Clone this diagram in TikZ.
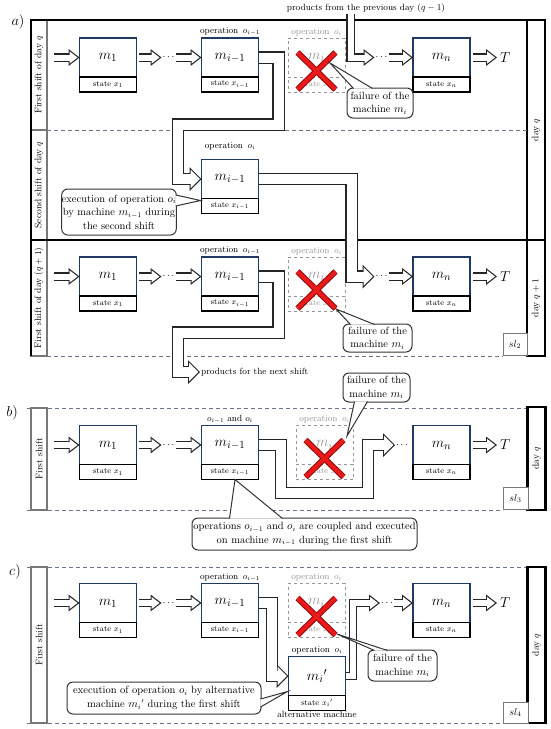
\documentclass[tikz,border=0pt]{standalone}
\usepackage{tikz}
\usetikzlibrary{arrows.meta, positioning, calc}

\definecolor{navy}{RGB}{31,56,100}
\definecolor{framegray}{RGB}{105,115,135}
\definecolor{bargray}{RGB}{120,120,120}
\definecolor{failgray}{RGB}{150,150,150}
\definecolor{crossred}{RGB}{235,25,25}
\definecolor{crossdark}{RGB}{140,10,10}

\tikzset{
  thinout/.style={line width=8.4pt, draw=black!85, -{Triangle[length=11pt, width=17pt, line width=0pt]}},
  thinin/.style={line width=6pt, white, shorten >=1.96pt, -{Triangle[length=7.84pt, width=12.1pt, line width=0pt]}},
  wideout/.style={line width=12.4pt, draw=black!85, -{Triangle[length=12pt, width=24pt, line width=0pt]}},
  widein/.style={line width=10pt, white, shorten >=1.7pt, -{Triangle[length=9.1pt, width=18.2pt, line width=0pt]}},
}
\newcommand{\thinflow}[2][]{\draw[thinout,#1] #2; \draw[thinin,#1] #2;}
\newcommand{\wideflow}[2][]{\draw[wideout,#1] #2; \draw[widein,#1] #2;}
\newcommand{\failx}[1]{%
  \draw[crossedge] ($(#1)+(-19,-5)$) -- ($(#1)+(19,32)$) ($(#1)+(19,-5)$) -- ($(#1)+(-19,32)$);
  \draw[crossfill] ($(#1)+(-19,-5)$) -- ($(#1)+(19,32)$) ($(#1)+(19,-5)$) -- ($(#1)+(-19,32)$);}

\begin{document}
\begin{tikzpicture}[x=1pt, y=-1pt,
    machine/.style={rectangle, draw=navy, line width=1.1pt, fill=white, minimum width=57pt, minimum height=39pt, inner sep=0pt, outer sep=0pt, font=\fontsize{15}{18}\selectfont},
    statebox/.style={rectangle, draw=black, line width=1.1pt, fill=white, minimum width=57pt, minimum height=15pt, inner sep=0pt, outer sep=0pt, font=\fontsize{8}{9}\selectfont},
    failbox/.style={rectangle, draw=failgray, dashed, line width=0.9pt, minimum width=57pt, minimum height=39pt, inner sep=0pt, outer sep=0pt, text=failgray, font=\fontsize{15}{18}\selectfont},
    failstate/.style={failbox, minimum height=15pt, font=\fontsize{8}{9}\selectfont},
    oplabel/.style={inner sep=1pt, font=\fontsize{9}{10}\selectfont},
    dots/.style={minimum width=12pt, inner sep=0pt, outer sep=1pt, font=\fontsize{10}{10}\selectfont},
    endlabel/.style={anchor=west, inner sep=0pt, outer sep=3pt, font=\fontsize{15}{18}\selectfont},
    callout/.style={draw=black!80, line width=1pt, fill=white, rounded corners=6pt, align=center, inner sep=0pt, font=\fontsize{10.5}{13.5}\selectfont},
    pointer/.style={draw=black!80, line width=1pt, fill=white},
    shiftbar/.style={draw=bargray, line width=1.3pt, fill=white, rotate=90, minimum height=16pt, inner sep=0pt, font=\fontsize{9.5}{11}\selectfont},
    daybar/.style={draw=black, line width=2.4pt, fill=white, rotate=90, minimum height=18pt, inner sep=0pt, font=\fontsize{9.5}{11}\selectfont},
    slbox/.style={draw=bargray, line width=0.9pt, fill=white, minimum width=24pt, minimum height=22pt, inner sep=0pt, font=\fontsize{10}{12}\selectfont},
    frame/.style={line width=2.4pt},
    framedash/.style={draw=framegray, line width=1pt, dash pattern=on 4pt off 3pt},
    crossedge/.style={draw=crossdark, line width=6pt},
    crossfill/.style={draw=crossred, line width=4pt},
    panel/.style={font=\fontsize{14}{16}\selectfont}
  ]
  \useasboundingbox (0,0) rectangle (550,729);

  % ---------- a) ----------
  \node[panel] (alabel) at (18,22) {$a)$};
  \node[shiftbar, minimum width=110pt] (a1shift) at (39,75) {First shift of day $q$};
  \node[shiftbar, minimum width=110pt] (a2shift) at (39,185) {Second shift of day $q$};
  \node[shiftbar, minimum width=116pt] (a3shift) at (39,298) {First shift of day $(q+1)$};
  \node[daybar, minimum width=220pt] (aday) at (536,130) {day $q$};
  \node[daybar, minimum width=116pt] (aday1) at (536,298) {day $q+1$};
  \draw[frame] (31,356) -- (31,20) -- (527,20);
  \draw[frame] (31,240) -- (527,240);
  \draw[framedash] (47,130) -- (527,130);
  \draw[framedash] (47,356) -- (503,356);
  \node[slbox] (asl) at (515,344.5) {$sl_2$};
  \node[oplabel] (prevday) at (366,8) {products from the previous day $(q-1)$};

  % first shift of day q
  \coordinate (a1in) at (54,57.5);
  \node[machine] (a1m1) at (108,57.5) {$m_1$};
  \node[statebox, below=0pt of a1m1] (a1m1s) {state $x_1$};
  \node[dots] (a1d1) at (168.5,57.5) {$\cdots$};
  \node[machine] (a1mi1) at (230,57.5) {$m_{i-1}$};
  \node[statebox, below=0pt of a1mi1] (a1mi1s) {state $x_{i-1}$};
  \node[oplabel, above=1pt of a1mi1] (a1op) {operation\enspace$o_{i-1}$};
  \node[failbox] (a1mi) at (316.5,57.5) {$m_i$};
  \node[failstate, below=0pt of a1mi] (a1mis) {state $x_i$};
  \node[oplabel, text=failgray, above=1pt of a1mi] (a1opf) {operation\enspace$o_i$};
  \node[dots] (a1d2) at (381.5,57.5) {$\cdots$};
  \node[machine] (a1mn) at (441.5,57.5) {$m_n$};
  \node[statebox, below=0pt of a1mn] (a1mns) {state $x_n$};
  \node[endlabel] (a1T) at (497,57.5) {$T$};

  % second shift of day q
  \node[machine] (a2mi1) at (230,179) {$m_{i-1}$};
  \node[statebox, below=0pt of a2mi1] (a2mi1s) {state $x_{i-1}$};
  \node[oplabel, above=8pt of a2mi1] (a2op) {operation\enspace$o_i$};

  % first shift of day q+1
  \coordinate (a3in) at (54,276.5);
  \node[machine] (a3m1) at (108,276.5) {$m_1$};
  \node[statebox, below=0pt of a3m1] (a3m1s) {state $x_1$};
  \node[dots] (a3d1) at (168.5,276.5) {$\cdots$};
  \node[machine] (a3mi1) at (230,276.5) {$m_{i-1}$};
  \node[statebox, below=0pt of a3mi1] (a3mi1s) {state $x_{i-1}$};
  \node[oplabel, above=1pt of a3mi1] (a3op) {operation\enspace$o_{i-1}$};
  \node[failbox] (a3mi) at (316.5,276.5) {$m_i$};
  \node[failstate, below=0pt of a3mi] (a3mis) {state $x_i$};
  \node[oplabel, text=failgray, above=1pt of a3mi] (a3opf) {operation\enspace$o_i$};
  \node[dots] (a3d2) at (381.5,276.5) {$\cdots$};
  \node[machine] (a3mn) at (441.5,276.5) {$m_n$};
  \node[statebox, below=0pt of a3mn] (a3mns) {state $x_n$};
  \node[endlabel] (a3T) at (497,276.5) {$T$};
  \node[oplabel, anchor=west] (nextshift) at (200,372) {products for the next shift};

  \thinflow{(a1in) -- (a1m1.west)}
  \thinflow[shorten <=2pt]{(a1m1.east) -- (a1d1.west)}
  \thinflow{(a1d1.east) -- (a1mi1.west)}
  \coordinate (a0top) at (350.5,14);
  \thinflow{(a0top) |- (a1d2.west)}
  \thinflow{(a1d2.east) -- (a1mn.west)}
  \thinflow[shorten <=3pt]{(a1mn.east) -- (a1T.west)}
  \wideflow{(a1mi1.east) -- (278.5,57.5) -- (278.5,124.5) -- (178,124.5) |- (a2mi1.west)}
  \wideflow{(a2mi1.east) -- (351.5,179) |- (a3d2.west)}
  \thinflow{(a3in) -- (a3m1.west)}
  \thinflow[shorten <=2pt]{(a3m1.east) -- (a3d1.west)}
  \thinflow{(a3d1.east) -- (a3mi1.west)}
  \thinflow{(a3d2.east) -- (a3mn.west)}
  \thinflow[shorten <=3pt]{(a3mn.east) -- (a3T.west)}
  \wideflow{(a3mi1.east) -- (278.5,276.5) -- (278.5,332.5) -- (178,332.5) |- (nextshift.west)}

  \failx{a1mi}
  \failx{a3mi}

  \node[callout, minimum width=66pt, minimum height=30pt] (a1fail) at (380,103) {failure of the\\machine $m_i$};
  \path[pointer] ($(a1fail.north west)+(7,1)$) -- ($(a1mi)+(13.5,5.5)$) -- ($(a1fail.north west)+(26,1)$);
  \node[callout, minimum width=114pt, minimum height=46pt] (a2exec) at (119,212) {execution of operation $o_i$\\by machine $m_{i-1}$ during\\the second shift};
  \path[pointer] ($(a2exec.east)+(-1,-17)$) -- ($(a2mi1s.north west)+(-1,2)$) -- ($(a2exec.east)+(-1,-6)$);
  \node[callout, minimum width=69pt, minimum height=28pt] (a3fail) at (377.5,338) {failure of the\\machine $m_i$};
  \path[pointer] ($(a3fail.north west)+(8,1)$) -- ($(a3mi)+(19.5,32.5)$) -- ($(a3fail.north west)+(32,1)$);

  % ---------- b) ----------
  \node[panel] (blabel) at (12,413) {$b)$};
  \draw[framedash] (27,408) -- (528,408);
  \draw[framedash] (27,510) -- (503,510);
  \node[shiftbar, minimum width=102pt] (bshift) at (39,459) {First shift};
  \node[daybar, minimum width=103pt] (bday) at (536.5,458.5) {day $q$};
  \node[slbox, minimum width=25pt] (bsl) at (515.5,498.5) {$sl_3$};

  \coordinate (bin) at (54,445);
  \node[machine] (bm1) at (108,445) {$m_1$};
  \node[statebox, below=0pt of bm1] (bm1s) {state $x_1$};
  \node[dots] (bd1) at (168.5,445) {$\cdots$};
  \node[machine] (bmi1) at (230,445) {$m_{i-1}$};
  \node[statebox, below=0pt of bmi1] (bmi1s) {state $x_{i-1}$};
  \node[oplabel, above=1pt of bmi1] (bop) {$o_{i-1}$ and $o_i$};
  \node[failbox] (bmi) at (324.5,445) {$m_i$};
  \node[failstate, below=0pt of bmi] (bmis) {state $x_i$};
  \node[oplabel, text=failgray, above=1pt of bmi] (bopf) {operation\enspace$o_i$};
  \node[dots] (bd2) at (402,445) {$\cdots$};
  \node[machine] (bmn) at (441.5,445) {$m_n$};
  \node[statebox, below=0pt of bmn] (bmns) {state $x_n$};
  \node[endlabel] (bT) at (497,445) {$T$};

  \thinflow{(bin) -- (bm1.west)}
  \thinflow[shorten <=2pt]{(bm1.east) -- (bd1.west)}
  \thinflow{(bd1.east) -- (bmi1.west)}
  \wideflow{(bmi1.east) -- (281,445) -- (281,493) -- (368,493) |- (bd2.west)}
  \thinflow[shorten <=3pt]{(bmn.east) -- (bT.west)}

  \failx{bmi}

  \node[callout, minimum width=67pt, minimum height=29pt] (bfail) at (376.5,387.5) {failure of the\\machine $m_i$};
  \path[pointer] ($(bfail.south west)+(12,-1)$) -- ($(bmi)+(22.5,-9)$) -- ($(bfail.south west)+(25,-1)$);
  \node[callout, minimum width=225pt, minimum height=32pt] (bcoupled) at (304.5,534) {operations $o_{i-1}$ and $o_i$ are coupled and executed\\on machine $m_{i-1}$ during the first shift};
  \path[pointer] ($(bcoupled.north west)+(38,1)$) -- ($(bmi1s.south)+(5,0)$) -- ($(bcoupled.north west)+(91,1)$);

  % ---------- c) ----------
  \node[panel] (clabel) at (15,572) {$c)$};
  \draw[framedash] (27,567) -- (528,567);
  \draw[framedash] (27,723) -- (503,723);
  \node[shiftbar, minimum width=156pt] (cshift) at (39,645) {First shift};
  \node[daybar, minimum width=156pt] (cday) at (536.5,645) {day $q$};
  \node[slbox, minimum width=25pt, minimum height=21pt] (csl) at (515.5,712.5) {$sl_4$};

  \coordinate (cin) at (54,603);
  \node[machine] (cm1) at (108,603) {$m_1$};
  \node[statebox, below=0pt of cm1] (cm1s) {state $x_1$};
  \node[dots] (cd1) at (168.5,603) {$\cdots$};
  \node[machine] (cmi1) at (230,603) {$m_{i-1}$};
  \node[statebox, below=0pt of cmi1] (cmi1s) {state $x_{i-1}$};
  \node[oplabel, above=1pt of cmi1] (cop) {operation\enspace$o_{i-1}$};
  \node[failbox] (cmi) at (316.5,603) {$m_i$};
  \node[failstate, below=0pt of cmi] (cmis) {state $x_i$};
  \node[oplabel, text=failgray, above=1pt of cmi] (copf) {operation\enspace$o_i$};
  \node[machine] (cmip) at (317,676) {$m_i{}'$};
  \node[statebox, below=0pt of cmip] (cmips) {state $x_i{}'$};
  \node[oplabel, above=1pt of cmip] (copalt) {operation\enspace$o_i$};
  \node[oplabel, below=0pt of cmips] (calt) {alternative machine};
  \node[dots] (cd2) at (387,603) {$\cdots$};
  \node[machine] (cmn) at (441.5,603) {$m_n$};
  \node[statebox, below=0pt of cmn] (cmns) {state $x_n$};
  \node[endlabel] (cT) at (497,603) {$T$};

  \thinflow{(cin) -- (cm1.west)}
  \thinflow[shorten <=2pt]{(cm1.east) -- (cd1.west)}
  \thinflow{(cd1.east) -- (cmi1.west)}
  \wideflow{(cmi1.east) -- (272,603) |- (cmip.west)}
  \thinflow{(cmip.east) -- (353,676) |- (cd2.west)}
  \thinflow{(cd2.east) -- (cmn.west)}
  \thinflow[shorten <=3pt]{(cmn.east) -- (cT.west)}

  \failx{cmi}

  \node[callout, minimum width=69pt, minimum height=31pt] (cfail) at (402.5,665.5) {failure of the\\machine $m_i$};
  \path[pointer] ($(cfail.north west)+(7,1)$) -- ($(cmi)+(20.5,31)$) -- ($(cfail.north west)+(20,1)$);
  \node[callout, minimum width=194pt, minimum height=32pt] (cexec) at (164,698) {execution of operation $o_i$ by alternative\\machine $m_i{}'$ during the first shift};
  \path[pointer] ($(cexec.east)+(-1,1)$) -- ($(cmips.north west)+(-1,-4)$) -- ($(cexec.east)+(-1,9)$);
\end{tikzpicture}
\end{document}
